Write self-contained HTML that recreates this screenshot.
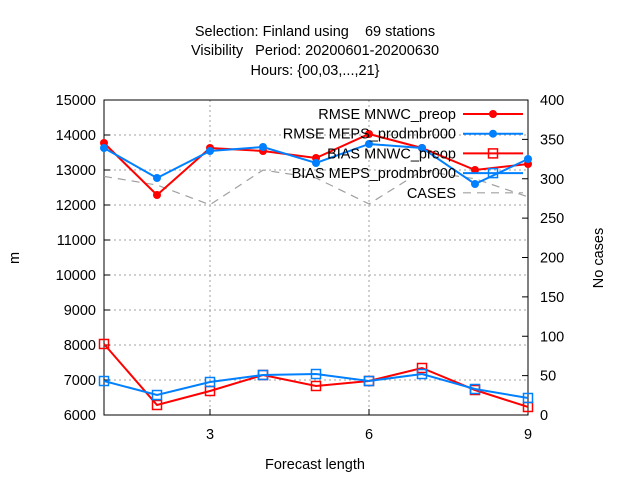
<!DOCTYPE html>
<html><head><meta charset="utf-8"><style>body{margin:0;background:#fff}svg{display:block;font-family:"Liberation Sans",sans-serif}</style></head>
<body>
<svg id="chart" width="640" height="480" viewBox="0 0 640 480" xmlns="http://www.w3.org/2000/svg">
<rect width="640" height="480" fill="#fff"/>
<g font-size="14.5" text-anchor="middle" fill="#000">
<text x="315" y="36" xml:space="preserve">Selection: Finland using    69 stations</text>
<text x="315" y="55" xml:space="preserve">Visibility   Period: 20200601-20200630</text>
<text x="315" y="75">Hours: {00,03,...,21}</text>
</g>
<g id="grid"></g>
<g id="axes"></g>
<g id="series"></g>
<g id="legend"></g>
<text x="315" y="469" font-size="14.5" text-anchor="middle">Forecast length</text>
<text x="19" y="258" font-size="14.5" text-anchor="middle" transform="rotate(-90 19 258)">m</text>
<text x="603" y="258" font-size="14.5" text-anchor="middle" transform="rotate(-90 603 258)">No cases</text>
</svg>
<script>
const steps=[1,2,3,4,5,6,7,8,9];
const rmseMnwc=[13771,12286,13629,13543,13343,14029,13629,13000,13171];
const rmseMeps=[13629,12771,13543,13657,13200,13743,13629,12600,13314];
const biasMnwc=[8029,6286,6686,7143,6829,6971,7343,6714,6229];
const biasMeps=[6971,6571,6943,7143,7171,6971,7171,6743,6486];
const cases=[303,292,267,311,301,268,310,300,277];
const yTicks=[6000,7000,8000,9000,10000,11000,12000,13000,14000,15000];
const y2Ticks=[0,50,100,150,200,250,300,350,400];
const xTicks=[3,6,9];
const L=104,R=528,T=100,B=415;
const X=v=>L+(v-1)/8*(R-L);
const Y=v=>B-(v-6000)/9000*(B-T);
const Y2=v=>B-v/400*(B-T);
const NS="http://www.w3.org/2000/svg";
function mk(parent,tag,attrs){const e=document.createElementNS(NS,tag);for(const k in attrs)e.setAttribute(k,attrs[k]);document.getElementById(parent).appendChild(e);return e;}
yTicks.forEach(t=>{const y=Y(t);
 if(t>6000&&t<15000){const g=mk('grid','line',{x1:L,x2:R,y1:y,y2:y,stroke:'#a0a0a0','stroke-dasharray':'2,3'});
 
 }
 const k=mk('axes','line',{x1:L,x2:L+6,y1:y,y2:y,stroke:'#000'});
 
 
 const tx=mk('axes','text',{x:L-8,y:y+5,'font-size':14.5,'text-anchor':'end'});tx.textContent=t;
 
 });
y2Ticks.forEach(t=>{const y=Y2(t);
 const k=mk('axes','line',{x1:R-6,x2:R,y1:y,y2:y,stroke:'#000'});
 
 
 const tx=mk('axes','text',{x:R+12,y:y+5,'font-size':14.5});tx.textContent=t;
 
 });
xTicks.forEach(t=>{const x=X(t);
 if(t<9){const g=mk('grid','line',{x1:x,x2:x,y1:T,y2:B,stroke:'#a0a0a0','stroke-dasharray':'2,3'});
 
 }
 const k=mk('axes','line',{x1:x,x2:x,y1:B,y2:B-6,stroke:'#000'});
 
 
 const tx=mk('axes','text',{x:x,y:B+24,'font-size':14.5,'text-anchor':'middle'});tx.textContent=t;
 
 });
const fr=mk('axes','rect',{x:L,y:T,width:R-L,height:B-T,fill:'none',stroke:'#000'});


function series(vals,yf,color,marker,name,dash){
 const pts=vals.map((v,i)=>X(steps[i])+','+yf(v)).join(' ');
 const pl=mk('series','polyline',{points:pts,fill:'none',stroke:color,'stroke-width':dash?1.2:2});
 if(dash)pl.setAttribute('stroke-dasharray','8,6');
 
 
 vals.forEach((v,i)=>{const x=X(steps[i]),y=yf(v);let m=null;
  if(marker==='dot')m=mk('series','circle',{cx:x,cy:y,r:4,fill:color});
  if(marker==='sq')m=mk('series','rect',{x:x-4.5,y:y-4.5,width:9,height:9,fill:'none',stroke:color,'stroke-width':1.5});
  if(m){
  }});
}
series(cases,Y2,'#a0a0a0',null,'cases',true);
series(rmseMnwc,Y,'#ff0000','dot','rmse-mnwc');
series(rmseMeps,Y,'#0080ff','dot','rmse-meps');
series(biasMnwc,Y,'#ff0000','sq','bias-mnwc');
series(biasMeps,Y,'#0080ff','sq','bias-meps');
const leg=[['RMSE MNWC_preop','#ff0000','dot'],['RMSE MEPS_prodmbr000','#0080ff','dot'],['BIAS MNWC_preop','#ff0000','sq'],['BIAS MEPS_prodmbr000','#0080ff','sq'],['CASES','#a0a0a0',null]];
leg.forEach((e,i)=>{const y=114+i*19.7;
 const t=mk('legend','text',{x:456,y:y+5,'font-size':14.5,'text-anchor':'end'});t.textContent=e[0];
 
 
 const l=mk('legend','line',{x1:463,x2:523,y1:y,y2:y,stroke:e[1],'stroke-width':e[2]?2:1.2});
 if(!e[2])l.setAttribute('stroke-dasharray','8,6');
 
 
 if(e[2]==='dot')mk('legend','circle',{cx:493,cy:y,r:4,fill:e[1]});
 if(e[2]==='sq')mk('legend','rect',{x:488.5,y:y-4.5,width:9,height:9,fill:'none',stroke:e[1],'stroke-width':1.5});
});
</script>
</body></html>
